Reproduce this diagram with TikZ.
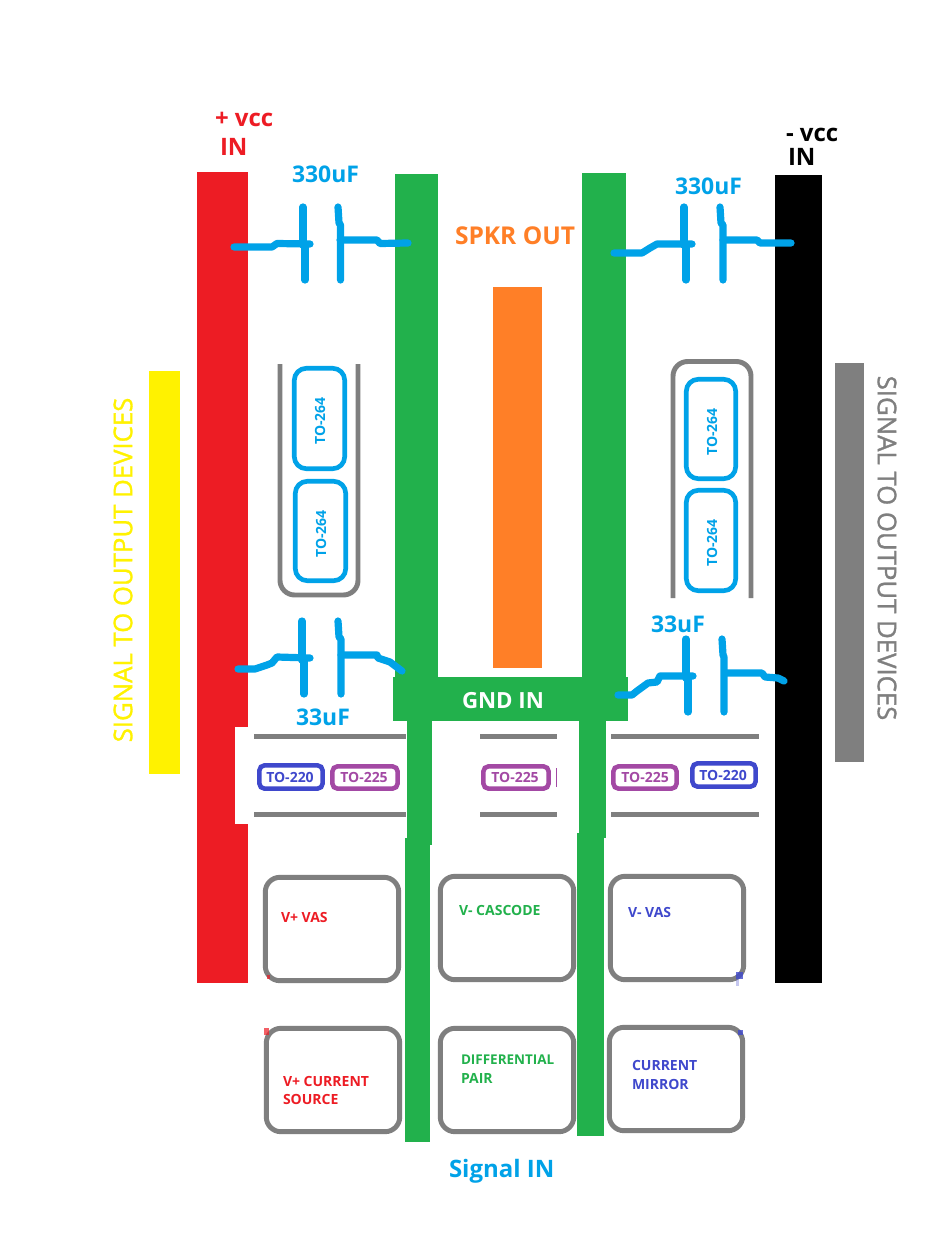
\documentclass[tikz,border=0pt]{standalone}
\usepackage{fontspec}
\setmainfont{Open Sans}
\newfontfamily\sidefont[FakeBold=1.2]{Open Sans}
\definecolor{cred}{HTML}{ED1C24}
\definecolor{cgreen}{HTML}{22B14C}
\definecolor{cblue}{HTML}{00A2E8}
\definecolor{cindigo}{HTML}{3F48CC}
\definecolor{cpurple}{HTML}{A349A4}
\definecolor{corange}{HTML}{FF7F27}
\definecolor{cyellow}{HTML}{FFF200}
\definecolor{cgray}{HTML}{7F7F7F}
\tikzset{
  lbl/.style={inner sep=0pt,outer sep=0pt,anchor=base west,font=\fontsize{18}{18}\selectfont\bfseries},
  lblb/.style={inner sep=0pt,outer sep=0pt,anchor=base west,font=\fontsize{17.2}{17.2}\selectfont\bfseries},
  smalltxt/.style={inner sep=0pt,outer sep=0pt,anchor=base west,font=\fontsize{10.5}{10.5}\selectfont\bfseries},
  chiptxt/.style={inner sep=0pt,outer sep=0pt,font=\fontsize{10.5}{10.5}\selectfont\bfseries},
  sidetxt/.style={inner sep=0pt,outer sep=0pt,font=\fontsize{19.3}{19.3}\selectfont\sidefont},
  stageframe/.style={draw=cgray,line width=3.7pt,rounded corners=11pt},
  grayline/.style={draw=cgray,line width=3.5pt},
  chipbox/.style={line width=3.4pt,rounded corners=4pt},
  bluebox/.style={draw=cblue,line width=3.5pt,rounded corners=9pt},
  capwire/.style={draw=cblue,line width=5.4pt,line cap=round,line join=round}
}
\begin{document}
\begin{tikzpicture}[x=0.75pt,y=-0.75pt]
\useasboundingbox (0,0) rectangle (931,1238);
\fill[white] (0,0) rectangle (931,1238);
% bars
\fill[cred] (197,172) rectangle (247.5,983);
\fill[white] (235,727) rectangle (248,824);
\fill[black] (775,175) rectangle (822,983);
\fill[corange] (493,287) rectangle (542,668);
\fill[cyellow] (149,371) rectangle (180,774);
\fill[cgray] (835,363) rectangle (864,762);
\fill[cgreen] (395,174) rectangle (438,690);
\fill[cgreen] (581.5,173) rectangle (626,690);
\fill[cgreen] (393,677) rectangle (628,721);
\fill[cgreen] (407,715) rectangle (432,845);
\fill[cgreen] (405,838) rectangle (430,1142);
\fill[cgreen] (579,715) rectangle (606,838);
\fill[cgreen] (577,833) rectangle (604,1136);
% capacitors
\draw[capwire] (303,207) -- (303,245) -- (305,245) -- (305,280);
\draw[capwire] (338,207) -- (339,223) -- (340.5,225) -- (340.5,280);
\draw[capwire] (234,247) -- (268,247) -- (272,247) -- (277,243.5) -- (310,244);
\draw[capwire] (340,240) -- (377,240) -- (380,243.5) -- (408,243);
\draw[capwire] (684,207) -- (684,245) -- (686,245) -- (686,280);
\draw[capwire] (720,207) -- (721,223) -- (723,225) -- (723,280);
\draw[capwire] (614,253) -- (642,253) -- (650,248) -- (657,244) -- (692,244);
\draw[capwire] (723,240) -- (757,240) -- (760,243) -- (791,243);
\draw[capwire] (302,621) -- (302,660) -- (304,660) -- (304,694);
\draw[capwire] (338,621) -- (339,637) -- (341,639) -- (341,694);
\draw[capwire] (238,669) -- (255,669) -- (267,665) -- (272,663) -- (277,657) -- (310,658);
\draw[capwire] (341,655) -- (377,655) -- (378,658) -- (390,662) -- (402,671);
\draw[capwire] (686,639) -- (686,678) -- (688,678) -- (688,712);
\draw[capwire] (722,639) -- (723,655) -- (724,657) -- (724,712);
\draw[capwire] (618,695) -- (632,695) -- (637,691) -- (648,683) -- (657,682) -- (660,676) -- (693,676);
\draw[capwire] (725,673) -- (762,673) -- (765,677) -- (778,678) -- (784,681);
% TO-264 groups
\draw[stageframe] (280,364) -- (280,595) -- (358,595) -- (358,364);
\draw[stageframe] (673,598) -- (673,361.5) -- (751,361.5) -- (751,598);
\draw[bluebox] (294.3,368.3) rectangle (344.7,468.7);
\draw[bluebox] (295.3,481.3) rectangle (345.7,580.7);
\draw[bluebox] (686.3,379.3) rectangle (735.7,478.7);
\draw[bluebox] (686.3,490.3) rectangle (735.7,590.7);
\node[chiptxt,cblue,rotate=90] (t1) at (320,421) {TO-264};
\node[chiptxt,cblue,rotate=90] (t2) at (321,534) {TO-264};
\node[chiptxt,cblue,rotate=90] (t3) at (712,432) {TO-264};
\node[chiptxt,cblue,rotate=90] (t4) at (712,543) {TO-264};
% gray rails
\draw[grayline] (254,736.5) -- (406,736.5);
\draw[grayline] (254,814.5) -- (406,814.5);
\draw[grayline] (480,736.5) -- (557,736.5);
\draw[grayline] (480,814.5) -- (557,814.5);
\draw[grayline] (611,736.5) -- (759,736.5);
\draw[grayline] (611,814.5) -- (759,814.5);
% chips
\draw[chipbox,draw=cindigo] (259.3,765.3) rectangle (322.7,788.7);
\draw[chipbox,draw=cpurple] (332.3,766.3) rectangle (397.7,788.7);
\draw[chipbox,draw=cpurple] (483.3,766.3) rectangle (548.7,788.7);
\draw[chipbox,draw=cpurple] (613.3,766.3) rectangle (676.7,788.7);
\draw[chipbox,draw=cindigo] (692.3,763.3) rectangle (755.7,786.7);
\draw[cpurple,line width=0.75pt] (556,768) -- (556,787);
\node[chiptxt,cindigo] (c1) at (290,777) {TO-220};
\node[chiptxt,cpurple] (c2) at (364,777) {TO-225};
\node[chiptxt,cpurple] (c3) at (515,777) {TO-225};
\node[chiptxt,cpurple] (c4) at (645,777) {TO-225};
\node[chiptxt,cindigo] (c5) at (723,775) {TO-220};
% stage frames
\draw[stageframe] (265.3,877.3) rectangle (398.7,980.7);
\draw[stageframe] (440.3,876.3) rectangle (573.7,979.7);
\draw[stageframe] (610.3,876.3) rectangle (743.7,979.7);
\draw[stageframe] (266.3,1028.3) rectangle (399.7,1131.7);
\draw[stageframe] (440.3,1028.3) rectangle (573.7,1131.7);
\draw[stageframe] (609.3,1027.3) rectangle (742.7,1130.7);
% specks
\fill[cred,opacity=.7] (267,975) rectangle (270,979);
\fill[cred,opacity=.7] (264,1028) rectangle (269,1035);
\fill[cindigo,opacity=.8] (736,972) rectangle (743,979);
\fill[cindigo,opacity=.3] (736,979) rectangle (739,986);
\fill[cindigo,opacity=.8] (738,1030) rectangle (743,1035);
% labels
\node[lbl,cred] (vp) at (215,126) {+ vcc};
\node[lbl,cred] (vpi) at (220,155) {IN};
\node[lbl,black] (vm) at (786,141) {- vcc};
\node[lbl,black] (vmi) at (788,165) {IN};
\node[lblb,cblue] (a1) at (292,182) {330uF};
\node[lblb,cblue] (a2) at (675,194) {330uF};
\node[lblb,cblue] (a3) at (296,725) {33uF};
\node[lblb,cblue] (a4) at (651,632) {33uF};
\node[lbl,corange,font=\fontsize{18.4}{18.4}\selectfont\bfseries] (spk) at (455,244) {SPKR OUT};
\node[lbl,white,font=\fontsize{16.7}{16.7}\selectfont\bfseries] (gnd) at (462,708) {GND IN};
\node[lbl,cblue] (sig) at (449,1177) {Signal IN};
\node[sidetxt,cyellow,rotate=90] (sy) at (123,570) {SIGNAL TO OUTPUT DEVICES};
\node[sidetxt,cgray,rotate=-90] (sg) at (887,548) {SIGNAL TO OUTPUT DEVICES};
\node[smalltxt,cred] (s1) at (281,922) {V+ VAS};
\node[smalltxt,cgreen] (s2) at (459,915) {V- CASCODE};
\node[smalltxt,cindigo] (s3) at (628,917) {V- VAS};
\node[smalltxt,cred] (s4) at (283,1086) {V+ CURRENT};
\node[smalltxt,cred] (s5) at (283,1104) {SOURCE};
\node[smalltxt,cgreen,font=\fontsize{10.1}{10.1}\selectfont\bfseries] (s6) at (461,1064) {DIFFERENTIAL};
\node[smalltxt,cgreen] (s7) at (461,1083) {PAIR};
\node[smalltxt,cindigo] (s8) at (632,1070) {CURRENT};
\node[smalltxt,cindigo] (s9) at (632,1089) {MIRROR};
\end{tikzpicture}
\end{document}
